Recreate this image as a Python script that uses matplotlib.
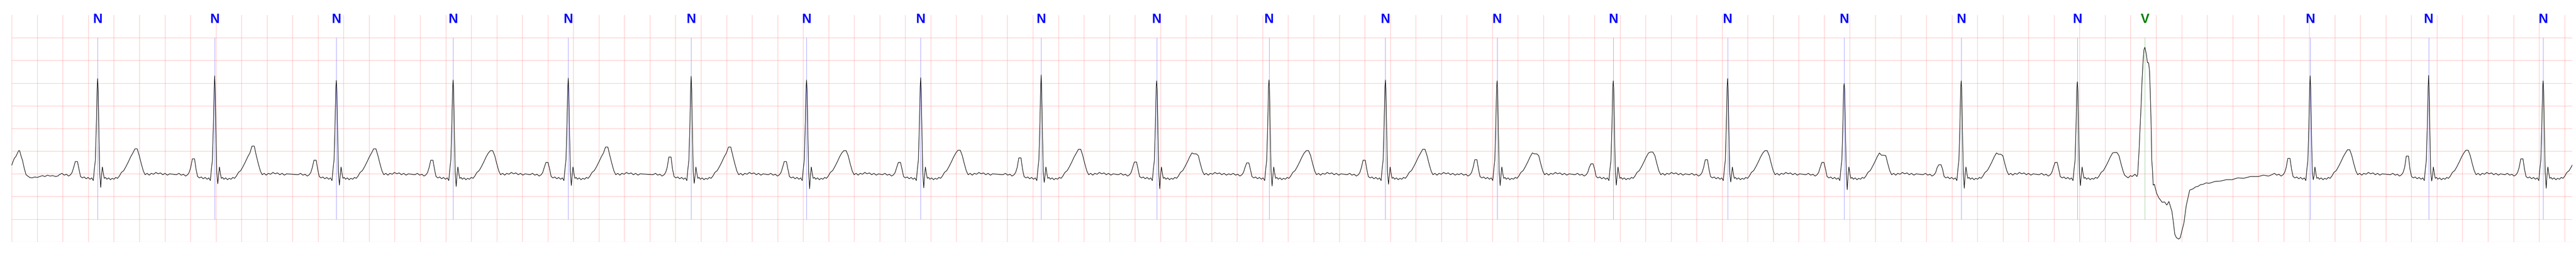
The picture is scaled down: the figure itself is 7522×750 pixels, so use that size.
import numpy as np
import matplotlib
matplotlib.use("Agg")
import matplotlib.pyplot as plt

# beat annotations: R peak time (s) and label
beat_times = [0.673, 1.590, 2.543, 3.458, 4.360, 5.323, 6.227, 7.121, 8.065, 8.970,
              9.850, 10.762, 11.637, 12.547, 13.443, 14.356, 15.273, 16.183, 16.712,
              18.007, 18.935, 19.832]
beat_labels = ["N"] * 18 + ["V"] + ["N"] * 3

# per normal beat peaks (mV)
p_peak = [0.27, 0.33, 0.30, 0.30, 0.25, 0.37, 0.27, 0.25, 0.35, 0.26, 0.24,
          0.30, 0.31, 0.22, 0.31, 0.25, 0.20, 0.25, 0.34, 0.39, 0.33]
r_peak = [2.10, 2.16, 2.06, 2.07, 2.11, 2.15, 2.07, 2.12, 2.18, 2.05, 2.07,
          2.07, 2.05, 2.05, 2.10, 1.99, 2.05, 2.03, 2.16, 2.17, 2.05]
s_peak = [-0.30, -0.22, -0.25, -0.28, -0.26, -0.21, -0.33, -0.31, -0.19, -0.33, -0.27,
          -0.23, -0.26, -0.25, -0.18, -0.35, -0.32, -0.26, -0.13, -0.16, -0.32]
t_peak = [0.55, 0.61, 0.55, 0.51, 0.59, 0.59, 0.51, 0.52, 0.54, 0.44, 0.51,
          0.54, 0.44, 0.48, 0.51, 0.41, 0.43, 0.47, 0.53, 0.52, 0.50]

# shape of a normal beat around its R peak (s, mV); letters take the beat's own peak
shape_offsets = [-0.300, -0.280, -0.262, -0.245, -0.228, -0.212, -0.200, -0.188, -0.175, -0.158,
                 -0.146, -0.134, -0.120, -0.105, -0.090, -0.075, -0.060, -0.046, -0.034, -0.026,
                 -0.018, -0.010, -0.004, 0.000, 0.004, 0.010, 0.016, 0.024, 0.030, 0.037,
                 0.045, 0.052, 0.062, 0.072, 0.086, 0.100, 0.114, 0.128, 0.142, 0.156,
                 0.170, 0.186, 0.204, 0.222, 0.240, 0.258, 0.276, 0.292, 0.310, 0.326,
                 0.342, 0.358, 0.372, 0.388, 0.404, 0.420, 0.438, 0.456, 0.474, 0.492,
                 0.510, 0.528, 0.546, 0.564]
shape_levels = [-0.02, 0.01, -0.03, -0.01, -0.05, -0.02, 0.03, 0.14, "P", "P",
                0.10, -0.06, -0.09, -0.07, -0.11, -0.08, -0.12, -0.09, -0.15, 0.10,
                0.30, 1.10, 1.90, "R", 1.85, 0.90, 0.05, "S", -0.05, 0.15,
                0.00, -0.10, -0.08, -0.12, -0.09, -0.13, -0.10, -0.12, -0.08, -0.10,
                -0.05, 0.03, 0.07, 0.16, 0.26, 0.37, 0.46, "T", "T", 0.40,
                0.22, 0.06, -0.02, 0.01, -0.03, 0.01, -0.01, 0.03, 0.00, 0.02,
                -0.02, 0.01, -0.03, 0.00]

# start of the strip: tail of the previous T wave
lead_t = [0.000, 0.010, 0.020, 0.032, 0.044, 0.054, 0.062, 0.072, 0.084, 0.098,
          0.112, 0.126, 0.140, 0.160, 0.180, 0.200, 0.220, 0.240, 0.260, 0.280,
          0.300, 0.320, 0.345, 0.360]
lead_v = [0.19, 0.27, 0.34, 0.38, 0.45, 0.51, 0.51, 0.40, 0.30, 0.12,
          -0.02, -0.05, -0.08, -0.09, -0.07, -0.08, -0.06, -0.04, -0.06, -0.03,
          -0.05, -0.04, -0.06, -0.05]

# ventricular beat and its slow recovery (absolute s, mV)
pvc_t = [16.553, 16.580, 16.599, 16.612, 16.634, 16.650, 16.656, 16.667, 16.675, 16.683,
         16.690, 16.698, 16.705, 16.712, 16.723, 16.732, 16.741, 16.748, 16.754, 16.761,
         16.766, 16.772, 16.777, 16.786, 16.804, 16.821, 16.848, 16.866, 16.884, 16.900,
         16.924, 16.937, 16.946, 16.959, 16.977, 16.989, 17.000, 17.018, 17.036, 17.063,
         17.090, 17.108, 17.126, 17.148, 17.170, 17.192, 17.215, 17.260, 17.305, 17.350,
         17.394, 17.440, 17.484, 17.540, 17.600, 17.640, 17.680]
pvc_v = [-0.03, -0.09, -0.04, -0.06, -0.01, -0.06, 0.00, 0.55, 1.06, 1.56,
         2.07, 2.49, 2.74, 2.79, 2.64, 2.45, 2.45, 2.27, 1.81, 1.06,
         0.30, 0.05, -0.25, -0.23, -0.43, -0.53, -0.63, -0.62, -0.69, -0.61,
         -0.83, -1.11, -1.33, -1.41, -1.44, -1.41, -1.28, -1.08, -0.70, -0.36,
         -0.33, -0.29, -0.28, -0.24, -0.23, -0.20, -0.21, -0.17, -0.16, -0.13,
         -0.13, -0.09, -0.10, -0.06, -0.06, -0.03, -0.05]

xs = list(lead_t)
ys = list(lead_v)
k = 0
for i, (tb, lab) in enumerate(zip(beat_times, beat_labels)):
    if lab == "V":
        xs += pvc_t
        ys += pvc_v
        continue
    if i + 1 < len(beat_times):
        nxt = pvc_t[0] if beat_labels[i + 1] == "V" else beat_times[i + 1] + shape_offsets[0]
    else:
        nxt = 1e9
    peaks = {"P": p_peak[k], "R": r_peak[k], "S": s_peak[k], "T": t_peak[k]}
    for off, lev in zip(shape_offsets, shape_levels):
        if tb + off >= nxt:
            break
        xs.append(tb + off)
        ys.append(peaks[lev] if isinstance(lev, str) else lev)
    k += 1

fig = plt.figure(figsize=(75.22, 7.5), dpi=100)
ax = fig.add_axes([0.00456, 0.05907, 0.99398, 0.88227])

ax.plot(xs, ys, color="black", lw=1.1, zorder=3)

for tb, lab in zip(beat_times, beat_labels):
    c = "green" if lab == "V" else "blue"
    ax.vlines(tb, -1.0, 3.0, colors=c, alpha=0.5, lw=0.7, zorder=2)
    ax.text(tb, 3.4, lab, color=c, ha="center", va="center", fontsize=27.6,
            fontweight="bold", family=["Liberation Sans Narrow", "Liberation Sans", "DejaVu Sans"])

ax.set_xlim(0, 20.06)
ax.set_ylim(-1.5, 3.5)
ax.set_xticks(np.arange(0, 20.01, 0.2))
ax.set_yticks(np.arange(-1.5, 3.01, 0.5))
ax.grid(True, color="red", alpha=0.25, lw=1.0)
ax.set_axisbelow(True)
ax.tick_params(length=0, labelbottom=False, labelleft=False)
for sp in ax.spines.values():
    sp.set_visible(False)

fig.savefig("out.png", dpi=100)
